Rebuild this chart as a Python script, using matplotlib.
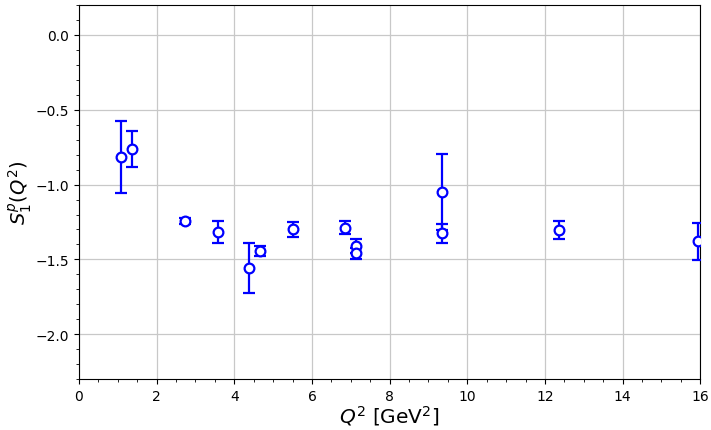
import numpy as np
import matplotlib
matplotlib.use("Agg")
import matplotlib.pyplot as plt
from matplotlib.ticker import MultipleLocator

# Q^2 values and S1 moments
q2 = [1.09, 1.37, 2.73, 3.57, 4.39, 4.66, 5.50, 6.86, 7.14, 7.14, 9.35, 9.35, 12.37, 15.94]
s1 = [-0.815, -0.762, -1.243, -1.315, -1.558, -1.443, -1.300, -1.287, -1.410, -1.460, -1.051, -1.326, -1.304, -1.378]
err = [0.24, 0.122, 0.02, 0.072, 0.167, 0.035, 0.052, 0.044, 0.045, 0.035, 0.253, 0.064, 0.059, 0.123]

fig = plt.figure(figsize=(7.11, 4.31), dpi=100)
ax = fig.add_axes([0.111, 0.118, 0.874, 0.868])

ax.errorbar(q2, s1, yerr=err, fmt='o', color='blue', mfc='white', mec='blue',
            ms=7, mew=1.6, elinewidth=1.6, capsize=4.5, capthick=1.6, zorder=3)

ax.set_xlim(0, 16)
ax.set_ylim(-2.3, 0.2)
ax.xaxis.set_major_locator(MultipleLocator(2))
ax.xaxis.set_minor_locator(MultipleLocator(0.5))
ax.yaxis.set_major_locator(MultipleLocator(0.5))
ax.yaxis.set_minor_locator(MultipleLocator(0.1))
ax.grid(True, which='major', color='#c8c8c8', linewidth=0.9)
ax.set_axisbelow(True)

ax.set_xlabel(r'$Q^2$ [GeV$^2$]', fontsize=14.5, labelpad=0)
ax.set_ylabel(r'$S_1^p(Q^2)$', fontsize=14, labelpad=1)

fig.savefig("out.png", dpi=100)
